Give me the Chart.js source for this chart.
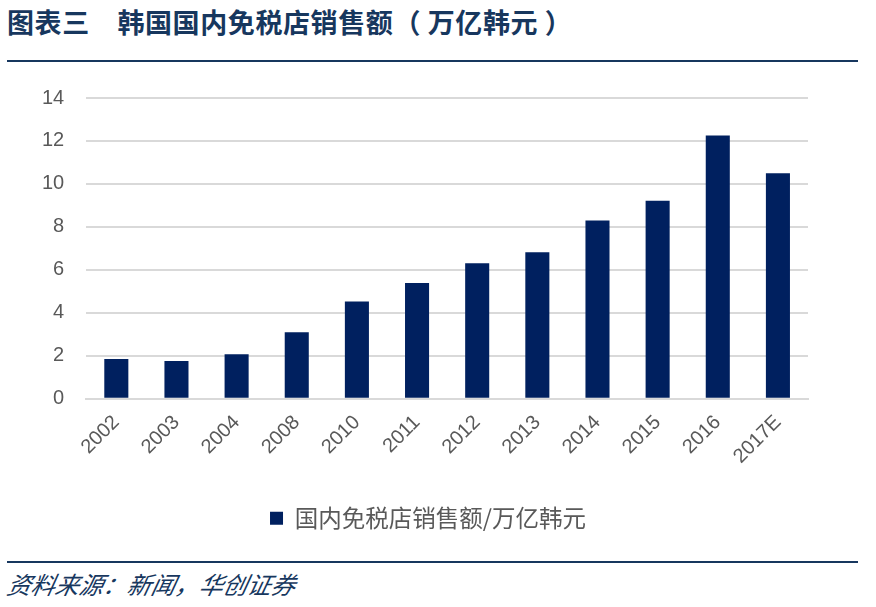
<!DOCTYPE html>
<html>
<head>
<meta charset="utf-8">
<script src="https://cdn.jsdelivr.net/npm/chart.js@4.4.0/dist/chart.umd.min.js"></script>
<style>
  body { margin: 0; width: 876px; height: 607px; background: #fff; position: relative; overflow: hidden; }
  .title { position: absolute; left: 7px; top: 2px; font: bold 27px "Noto Sans CJK SC", sans-serif; letter-spacing: 0.6px; color: #17375E; white-space: pre; }
  .rule { position: absolute; left: 7px; width: 851px; height: 2px; background: #17375E; }
  .source { position: absolute; left: 8px; top: 566px; font: italic 24px "Noto Sans CJK SC", serif; color: #17375E; transform: skewX(-12deg); transform-origin: left; }
  .chart-box { position: absolute; left: 0; top: 64px; width: 876px; height: 476px; }
</style>
</head>
<body>
<div class="title">图表三　韩国国内免税店销售额（ 万亿韩元 ）</div>
<div class="rule" style="top:60px"></div>
<div class="chart-box"><canvas class="chart"></canvas></div>
<div class="rule" style="top:561px"></div>
<div class="source">资料来源：新闻，华创证券</div>
<script>
const years = ["2002", "2003", "2004", "2008", "2010", "2011", "2012", "2013", "2014", "2015", "2016", "2017E"];
const sales = [1.84, 1.75, 2.07, 3.09, 4.52, 5.39, 6.31, 6.82, 8.29, 9.21, 12.25, 10.5];
const seriesName = "国内免税店销售额/万亿韩元";

// legend sits a bit right of the plot centre in the original
const legendShift = {
  id: "legendShift",
  afterUpdate(chart) {
    chart.legend.left += 14;
    chart.legend.right += 14;
  },
};

const ctx = document.querySelector(".chart-box .chart").getContext("2d");
const salesChart = new Chart(ctx, {
  type: "bar",
  data: {
    labels: years,
    datasets: [
      {
        label: seriesName,
        data: sales,
        backgroundColor: "#00205F",
        barPercentage: 0.4,
        categoryPercentage: 1,
      },
    ],
  },
  options: {
    responsive: true,
    maintainAspectRatio: false,
    animation: false,
    layout: { padding: { left: 20, right: 68, top: 9, bottom: 0 } },
    plugins: {
      tooltip: { enabled: false },
      legend: {
        position: "bottom",
        labels: {
          color: "#595959",
          font: { family: "'Noto Sans CJK SC', sans-serif", size: 23.5 },
          boxWidth: 13,
          boxHeight: 13,
          padding: 34,
        },
      },
    },
    scales: {
      x: {
        grid: { display: false },
        border: { color: "#d9d9d9", width: 2 },
        ticks: {
          color: "#595959",
          font: { family: "'Liberation Sans', sans-serif", size: 20 },
          minRotation: 45,
          maxRotation: 45,
          padding: 4,
        },
      },
      y: {
        min: 0,
        max: 14,
        grid: { color: "#d9d9d9", lineWidth: 2, drawTicks: false },
        border: { display: false },
        ticks: {
          stepSize: 2,
          color: "#595959",
          font: { family: "'Liberation Sans', sans-serif", size: 20 },
          padding: 22,
        },
      },
    },
  },
  plugins: [legendShift],
});
</script>
</body>
</html>
